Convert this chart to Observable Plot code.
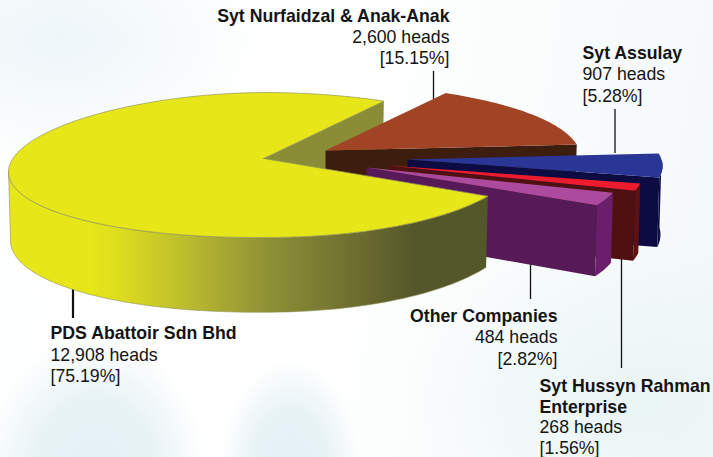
<!DOCTYPE html>
<html>
<head>
<meta charset="utf-8">
<script src="https://cdn.jsdelivr.net/npm/d3@7"></script>
<script src="https://cdn.jsdelivr.net/npm/@observablehq/plot@0.6"></script>
<style>
html,body{margin:0;padding:0;width:713px;height:457px;overflow:hidden}
body{background:
 radial-gradient(ellipse 110px 130px at 95px 470px,#e4f1f4 0%,#e8f3f6 55%,rgba(232,243,246,0) 100%),
 radial-gradient(ellipse 70px 110px at 290px 470px,#e3f0f4 0%,#e8f3f6 55%,rgba(232,243,246,0) 100%),
 radial-gradient(ellipse 240px 160px at 640px 400px,#eaf5f5 0%,rgba(234,245,245,0) 100%),
 radial-gradient(ellipse 200px 120px at 60px 40px,#eef6f9 0%,rgba(238,246,249,0) 100%),
 linear-gradient(100deg,#fdfefe 0%,#ffffff 45%,#f3f8f9 100%)}
svg{display:block;background:transparent!important}
</style>
</head>
<body>
<script>
// Chart values
const companies = ["PDS Abattoir Sdn Bhd", "Syt Nurfaidzal & Anak-Anak", "Syt Assulay", "Syt Hussyn Rahman Enterprise", "Other Companies"];
const heads = [12908, 2600, 907, 268, 484];
const shares = [75.19, 15.15, 5.28, 1.56, 2.82];

// Drawing order and look of each slice
const topColors = ["#e6e619", "#a14425", "#2a3695", "#ec1c2e", "#ac4a9e"];
const radialColors = ["#8a8c36", "#3c1d0e", "#0c0c42", "#4e1010", "#551a57"];
const rimColors = ["url(#rim)", "#3c1d0e", "#0e0e48", "#5c1212", "#6a1f6c"];
const shiftX = [0, 62, 144, 125, 103];
const shiftY = [0, -8, 1, 7, 9];

// Pie projection: a tilted disc seen in slight perspective
const cx = 263, cy = 158, rX = 254, rY = 71.9, persp = 0.09, depth = 68, startDeg = 30;
const rad = (d) => d * Math.PI / 180;

function project(deg, i, lower, radius = 1) {
  const c0 = Math.cos(rad(deg)), s0 = Math.sin(rad(deg));
  const c = c0 * radius, s = s0 * radius;
  const w = 1 / (1 - persp * s);
  const squeeze = lower ? 0.992 : 1;
  // the large slice's disc is not quite symmetric in the source picture
  const pinch = i === 0 ? 1 - 0.06 * Math.max(s, 0) * Math.max(c, 0) : 1;
  const droop = i === 0 ? 7 * Math.pow(Math.max(-c, 0), 1.5) : 0;
  return {
    x: cx + shiftX[i] + rX * c * w * squeeze * pinch,
    y: cy + shiftY[i] + rY * s * w + droop + (lower ? depth * w : 0)
  };
}
function arc(a0, a1, i, lower) {
  const n = Math.max(2, Math.ceil(Math.abs(a1 - a0) / 1.5));
  return d3.range(n + 1).map((k) => project(a0 + (a1 - a0) * k / n, i, lower));
}

// Angular spans follow from the shares
let run = startDeg;
const spans = shares.map((v) => { const a0 = run; run += v * 3.6; return [a0, run]; });
const apex = (i, lower) => project(0, i, lower, 0);

const face = (pts, fill, extra = {}) =>
  Plot.line(pts, {x: "x", y: "y", fill, stroke: "none", curve: "linear", ...extra});

function wedgeMarks(i) {
  let [a0, a1] = spans[i];
  const out = [];
  // side wall along the leading radius
  out.push(face([apex(i, false), project(a1, i, false), project(a1, i, true), apex(i, true), apex(i, false)], radialColors[i]));
  // rim: only the part that faces the viewer
  const norm = (a) => ((a + 180) % 360 + 360) % 360 - 180;
  const b1 = norm(a1), b0 = Math.max(0, b1 - (a1 - a0));
  if (b1 > 0) {
    out.push(face([...arc(b0, b1, i, false), ...arc(b1, b0, i, true)], rimColors[i]));
  }
  out.push(face([apex(i, false), ...arc(a0, a1, i, false), apex(i, false)], topColors[i]));
  return out;
}

// Order: yellow inner wall, exploded slices back to front, yellow body
const [ya0, ya1] = spans[0];
const yellowInner = face([apex(0, false), project(ya1, 0, false), project(ya1, 0, true), apex(0, true), apex(0, false)], radialColors[0]);
const yellowRim = face([...arc(ya0, 176, 0, false), ...arc(176, ya0, 0, true)], "url(#rim)", {stroke: "#8f8f55", strokeWidth: 0.6});
const yellowTop = face([apex(0, false), ...arc(ya0, ya1, 0, false), apex(0, false)], topColors[0], {stroke: "#96965a", strokeWidth: 0.7});

const defs = () => {
  const d = d3.create("svg:defs");
  const g = d.append("linearGradient").attr("id", "rim").attr("gradientUnits", "userSpaceOnUse")
    .attr("x1", 0).attr("x2", 713).attr("y1", 0).attr("y2", 0);
  [[90, "#e6e619"], [120, "#dcdc20"], [190, "#b9b92f"], [270, "#8d8f36"], [340, "#737431"], [415, "#54572a"], [490, "#54572a"]]
    .forEach(([x, c]) => g.append("stop").attr("offset", x / 713).attr("stop-color", c));
  return d.node();
};

// Leader lines
const leaders = [
  {x: 72.5, y1: 285, y2: 318, w: 2.2},
  {x: 433, y1: 71, y2: 99, w: 1.3},
  {x: 614.5, y1: 109, y2: 153, w: 1.3},
  {x: 621, y1: 258, y2: 368, w: 1.3},
  {x: 530, y1: 262, y2: 299, w: 1.3}
];

// Label placement
const fmt = d3.format(",");
const labelAt = [
  {x: 50, y: 333, gap: 21.5, anchor: "start", title: [companies[0]]},
  {x: 449, y: 15.5, gap: 21.3, anchor: "end", title: [companies[1]]},
  {x: 582, y: 53, gap: 21.2, anchor: "start", title: [companies[2]]},
  {x: 539, y: 386, gap: 20.6, anchor: "start", title: ["Syt Hussyn Rahman", "Enterprise"]},
  {x: 557, y: 316, gap: 21.2, anchor: "end", title: [companies[4]]}
];
const labelRows = labelAt.flatMap((l, i) => {
  const rows = [...l.title.map((t) => ({t, bold: true})),
    {t: `${fmt(heads[i])} heads`, bold: false},
    {t: `[${shares[i].toFixed(2)}%]`, bold: false}];
  return rows.map((r, k) => ({...r, x: l.x, y: l.y + k * l.gap, anchor: l.anchor}));
});
const textMark = (anchor, bold) => Plot.text(labelRows.filter((r) => r.anchor === anchor && r.bold === bold), {
  x: "x", y: "y", text: "t", textAnchor: anchor, lineAnchor: "middle",
  fontFamily: "Liberation Sans, Arial, sans-serif", fontSize: 17.7,
  fontWeight: bold ? "bold" : "normal", fill: "#141414"
});

const chart = Plot.plot({
  width: 713, height: 457,
  margin: 0,
  x: {domain: [0, 713], range: [0, 713], axis: null},
  y: {domain: [0, 457], range: [0, 457], axis: null},
  style: {background: "transparent"},
  marks: [
    defs,
    ...leaders.map((l) => Plot.ruleX([l], {x: "x", y1: "y1", y2: "y2", stroke: "#111", strokeWidth: l.w})),
    yellowInner,
    ...wedgeMarks(1),
    ...wedgeMarks(2),
    ...wedgeMarks(3),
    ...wedgeMarks(4),
    yellowRim,
    yellowTop,
    textMark("start", true), textMark("start", false),
    textMark("end", true), textMark("end", false)
  ]
});
document.body.appendChild(chart);
</script>
</body>
</html>
